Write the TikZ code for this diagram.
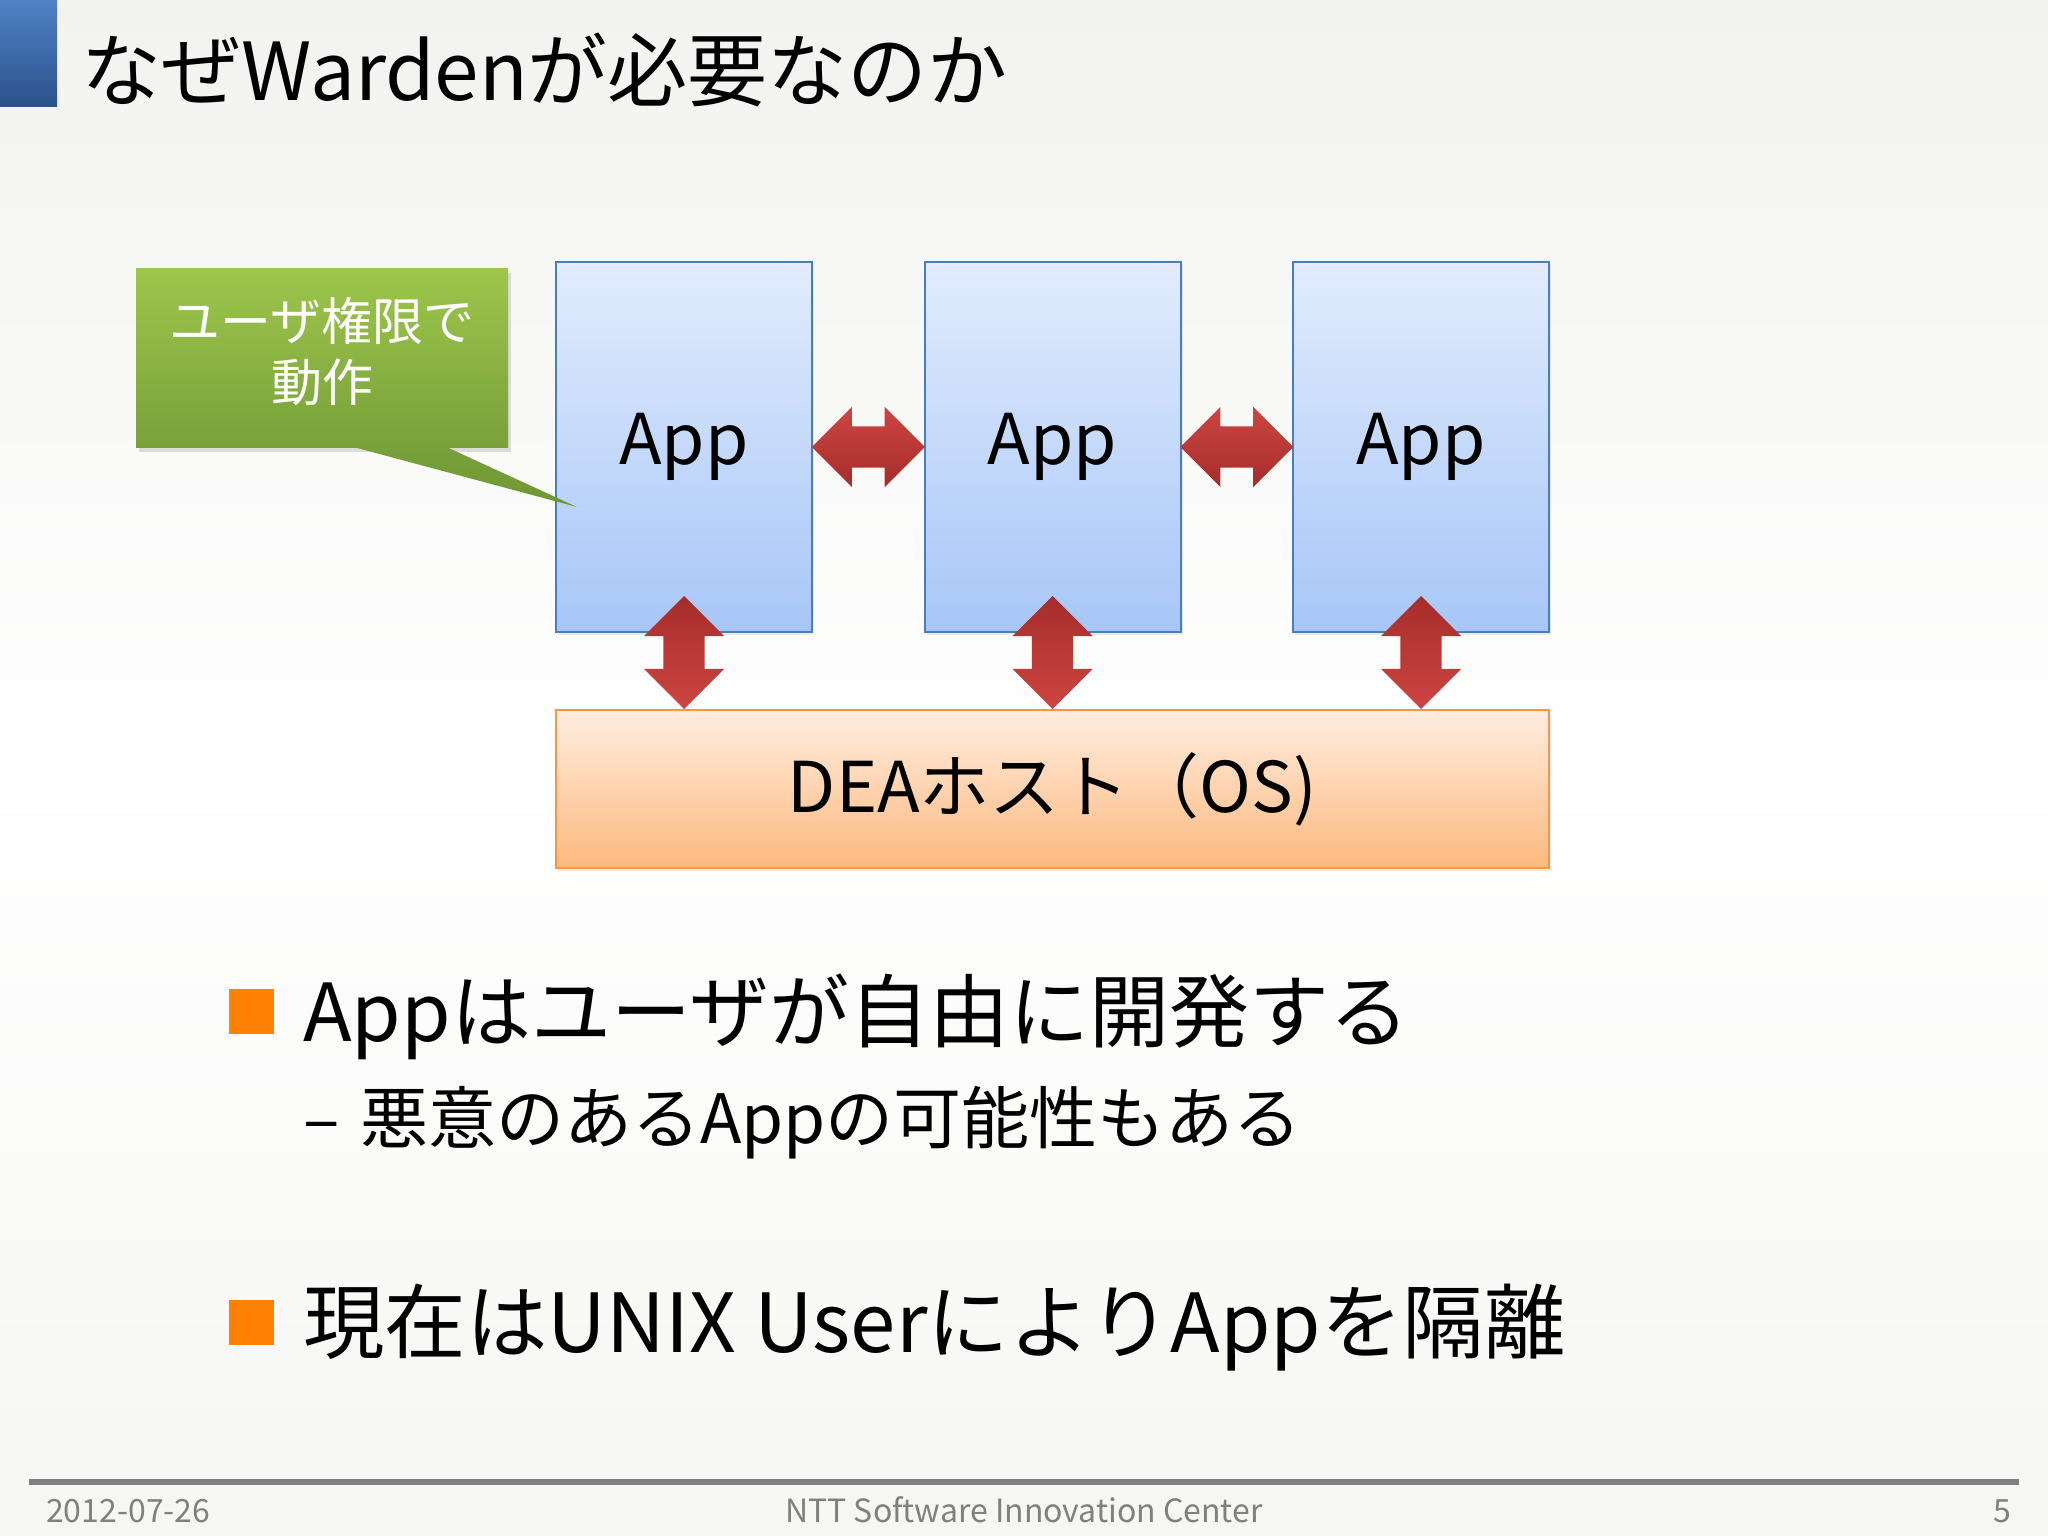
\documentclass[tikz,border=0pt]{standalone}
\usepackage{fontspec}
\setmainfont{Noto Sans CJK JP}
\usepackage{tikz}
\usetikzlibrary{positioning}
\usetikzlibrary{calc}
\usetikzlibrary{shapes.arrows}
\usetikzlibrary{shadows}

\definecolor{bgtop}{HTML}{F2F2F0}
\definecolor{bgbottom}{HTML}{F6F6F4}
\definecolor{bartop}{HTML}{4F82C6}
\definecolor{barbottom}{HTML}{2B5189}
\definecolor{apptop}{HTML}{E2ECFD}
\definecolor{appbottom}{HTML}{A7C6F7}
\definecolor{appline}{HTML}{4A7EBB}
\definecolor{deatop}{HTML}{FEEDE0}
\definecolor{deabottom}{HTML}{FDB97E}
\definecolor{dealine}{HTML}{F79646}
\definecolor{arrowlight}{HTML}{CD4542}
\definecolor{arrowdark}{HTML}{A52D2A}
\definecolor{notetop}{HTML}{9DC64C}
\definecolor{notebottom}{HTML}{78A13A}
\definecolor{notetip}{HTML}{6E9634}
\definecolor{bulletorange}{HTML}{FF8205}
\definecolor{footgray}{HTML}{808080}

\begin{document}
\begin{tikzpicture}[
        x = 1pt, y = -1pt,
        appbox/.style = {
            draw = appline,
            line width = 2pt,
            top color = apptop,
            bottom color = appbottom,
            minimum width = 256pt,
            minimum height = 370pt,
            inner sep = 0pt,
            font = \fontsize{70}{84}\selectfont,
            drop shadow = {shadow xshift=2pt, shadow yshift=-3pt, opacity=0.15}
        },
        deabox/.style = {
            draw = dealine,
            line width = 2pt,
            top color = deatop,
            bottom color = deabottom,
            minimum width = 993pt,
            minimum height = 158pt,
            inner sep = 0pt,
            font = \fontsize{70}{84}\selectfont,
            drop shadow = {shadow xshift=2pt, shadow yshift=-3pt, opacity=0.15}
        },
        harrow/.style = {
            double arrow,
            double arrow head extend = 19.5pt,
            inner xsep = 0pt,
            inner ysep = 20.5pt,
            minimum height = 113pt,
            minimum width = 80pt,
            top color = arrowlight,
            bottom color = arrowdark
        },
        varrow/.style = {
            harrow,
            rotate = 90,
            top color = arrowdark,
            bottom color = arrowlight
        },
        notebox/.style = {
            minimum width = 372pt,
            minimum height = 179pt,
            inner sep = 0pt,
            top color = notetop,
            bottom color = notebottom,
            drop shadow = {shadow xshift=3pt, shadow yshift=-4pt, opacity=0.25}
        },
        notetext/.style = {
            inner sep = 0pt,
            text = white,
            align = center,
            font = \fontsize{51}{61}\selectfont
        },
        bulletsq/.style = {
            fill = bulletorange,
            minimum size = 45pt,
            inner sep = 0pt
        },
        bigtext/.style = {
            inner sep = 0pt,
            anchor = base west,
            font = \fontsize{#1}{#1}\selectfont
        },
        bigtext/.default = 80,
        foottext/.style = {
            inner sep = 0pt,
            text = footgray,
            font = \fontsize{32}{32}\selectfont
        },
        node distance = {110.5pt}
        ]
%
        \shade[top color=bgtop, bottom color=bgbottom, middle color=white] (0,0) rectangle (2048,1536);
        \shade[top color=bartop, bottom color=barbottom] (0,0) rectangle (57,107);
        \node[bigtext=80] (title) at (81,101) {なぜWardenが必要なのか};
%
        \node[appbox] (app1) at (684,447) {App};
        \node[appbox, right=of app1] (app2) {App};
        \node[appbox, right=of app2] (app3) {App};
%
        \node[deabox, below=76pt of app2] (dea) {DEAホスト（OS)};
%
        \path (app1) -- node[harrow] (a12) {} (app2);
        \path (app2) -- node[harrow] (a23) {} (app3);
%
        \foreach \i in {1,2,3}
            \node[varrow] (v\i) at ($(app\i.south |- dea.north)+(0,-56.5)$) {};
%
        \node[notebox] (note) at (322,358) {};
        \node[notetext, yshift=6pt] (notelabel) at (note) {ユーザ権限で\\動作};
        \coordinate (tip) at (577,507);
        \shade[top color=notebottom, bottom color=notetip]
            ([xshift=34pt]note.south) -- (tip) -- ([xshift=126pt]note.south) -- cycle;
%
        \node[bulletsq] (sq1) at (251.5,1011) {};
        \node[bigtext=80] (item1) at (303,1041) {Appはユーザが自由に開発する};
        \node[bigtext=68] (item1a) at (303,1143) {–\hspace{0.3em}悪意のあるAppの可能性もある};
        \node[bulletsq] (sq2) at (251.5,1322) {};
        \node[bigtext=81.5] (item2) at (303,1352) {現在はUNIX UserによりAppを隔離};
%
        \draw[line width=6pt, footgray] (29,1482) -- (2019,1482);
        \node[foottext, anchor=base west] (date) at (46,1522) {2012-07-26};
        \node[foottext, anchor=base] (org) at (1024,1522) {NTT Software Innovation Center};
        \node[foottext, anchor=base east] (page) at (2011,1522) {5};
%
\end{tikzpicture}
\end{document}
